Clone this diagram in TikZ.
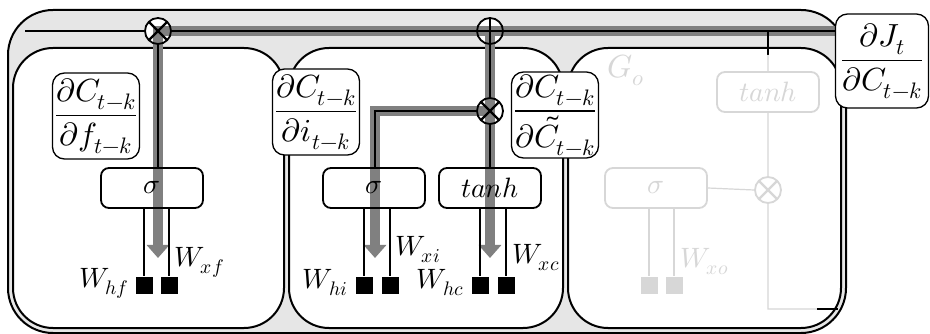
\documentclass[tikz,border=0pt]{standalone}
\usepackage{unicode-math}
\setmathfont{Latin Modern Math}
\usetikzlibrary{arrows.meta, calc}
\definecolor{bandgray}{RGB}{128, 128, 128}
\definecolor{fadegray}{RGB}{215, 215, 215}
\definecolor{cellgray}{RGB}{230, 230, 230}
\pgfdeclarelayer{back}
\pgfdeclarelayer{mid}
\pgfsetlayers{back, mid, main}

\begin{document}
\begin{tikzpicture}[x=1pt, y=-1pt, font=\fontsize{28}{32}\selectfont, >=Stealth,
    gate/.style={draw, line width=1.8pt, rounded corners=8pt, minimum width=102pt,
                 minimum height=40pt, inner sep=0pt},
    fgate/.style={gate, draw=fadegray, text=fadegray},
    grad/.style={draw, fill=white, line width=1.3pt, rounded corners=12pt, inner sep=1pt,
                 minimum width=87pt, minimum height=86pt, font=\fontsize{32}{36}\selectfont},
    wsq/.style={fill=#1, minimum size=17pt, inner sep=0pt}, wsq/.default=black,
    mul/.style={circle, draw=#1, line width=1.8pt, minimum size=26pt, inner sep=0pt,
        path picture={\draw[#1, line width=2.2pt]
            (path picture bounding box.north west) -- (path picture bounding box.south east)
            (path picture bounding box.north east) -- (path picture bounding box.south west);}},
    mul/.default=black,
    add/.style={circle, draw, line width=1.8pt, minimum size=26pt, inner sep=0pt,
        path picture={\draw[line width=2.2pt]
            (path picture bounding box.north) -- (path picture bounding box.south)
            (path picture bounding box.east) -- (path picture bounding box.west);}},
    band/.style={draw=bandgray, line width=10pt},
    wire/.style={line width=1.2pt}]
  \useasboundingbox (0,0) rectangle (930,334);

  % operators on the cell line
  \node[mul] (mulF) at (158,31) {};
  \node[add] (addC) at (490,31) {};
  \node[mul] (mulI) at (490,111) {};
  \node[mul=fadegray] (mulO) at (768,190) {};

  % gates
  \node[gate] (sigF) at (152,188) {$\sigma$};
  \node[gate] (sigI) at (374,188) {$\sigma$};
  \node[gate] (tanC) at (490,188) {$tanh$};
  \node[fgate] (sigO) at (656,188) {$\sigma$};
  \node[fgate] (tanO) at (768,92) {$tanh$};
  \node[text=fadegray, font=\fontsize{32}{36}\selectfont] (go) at (626,70) {$G_o$};

  % weights
  \foreach \n/\x in {whf/144, wxf/169, whi/364, wxi/390, whc/480, wxc/506}
    \node[wsq] (\n) at (\x,285) {};
  \foreach \n/\x in {who/649, wxo/674}
    \node[wsq=fadegray] (\n) at (\x,285) {};
  \node[anchor=east] (lhf) at ([xshift=-3pt, yshift=2pt]whf.west) {$W_{hf}$};
  \node[anchor=west] (lxf) at (171,262) {$W_{xf}$};
  \node[anchor=east] (lhi) at ([xshift=-4pt, yshift=2pt]whi.west) {$W_{hi}$};
  \node[anchor=west] (lxi) at (392,250) {$W_{xi}$};
  \node[anchor=east] (lhc) at ([xshift=-4pt, yshift=2pt]whc.west) {$W_{hc}$};
  \node[anchor=west] (lxc) at (509,258) {$W_{xc}$};
  \node[anchor=west, text=fadegray] (lxo) at (677,262) {$W_{xo}$};

  % gradient labels
  \node[grad] (dF) at (96,116) {$\dfrac{\partial C_{t-k}}{\partial f_{t-k}}$};
  \node[grad] (dI) at (316,112) {$\dfrac{\partial C_{t-k}}{\partial i_{t-k}}$};
  \node[grad] (dC) at (555,115) {$\dfrac{\partial C_{t-k}}{\partial \tilde{C}_{t-k}}$};
  \node[grad, minimum width=93pt, minimum height=94pt] (dJ) at (882,61)
        {$\dfrac{\partial J_t}{\partial C_{t-k}}$};

  \coordinate (cL) at (25,31);
  \coordinate (tipF) at (157,258);
  \coordinate (tipI) at (375,258);
  \coordinate (tipC) at (490,258);
  \coordinate (oK) at (768,55);
  \coordinate (oB) at (768,309);
  \coordinate (oR) at (817,309);
  \coordinate (oE) at (838,309);

  % cell and boxes
  \begin{pgfonlayer}{back}
    \draw[fill=cellgray, line width=2pt, rounded corners=45pt] (8,10) rectangle (846,333);
    \foreach \a/\b in {13/284, 289/563, 568/841}
      \draw[fill=white, line width=2pt, rounded corners=40pt] (\a,48) rectangle (\b,328);
    \foreach \c in {mulF, addC, mulI}
      \fill[white] (\c) circle[radius=13pt];
  \end{pgfonlayer}

  % gradient flow
  \begin{pgfonlayer}{mid}
    \draw[band, -{Triangle[width=22pt, length=13pt]}]
      (dJ.west |- mulF) -- (mulF.center) -- (mulF |- tipF);
    \draw[band, -{Triangle[width=22pt, length=13pt]}]
      (mulI.center) -- (tipI |- mulI) -- (tipI);
    \draw[band, -{Triangle[width=22pt, length=13pt]}] (addC.center) -- (tipC);
  \end{pgfonlayer}

  % wires
  \draw[wire] (cL) -- (mulF.west) (mulF.east) -- (addC.west) (addC.east) -- (dJ.west |- addC);
  \draw[wire] (mulF.south) -- (mulF |- sigF.north);
  \draw[wire] (mulI.west) -- (tipI |- mulI) -- (tipI |- sigI.north);
  \draw[wire] (addC.south) -- (mulI.north) (mulI.south) -- (tanC.north);
  \foreach \n/\g in {whf/sigF, wxf/sigF, whi/sigI, wxi/sigI, whc/tanC, wxc/tanC}
    \draw[wire] (\n |- \g.south) -- (\n.north);

  % output gate, faded
  \draw[wire] (oK |- addC) -- (oK);
  \draw[wire, fadegray] (oK) -- (tanO.north) (tanO.south) -- (mulO.north)
    (mulO.south) -- (oB) -- (oR) (sigO.east) -- (mulO.west);
  \draw[wire] (oR) -- (oE);
  \foreach \n in {who, wxo}
    \draw[wire, fadegray] (\n |- sigO.south) -- (\n.north);
\end{tikzpicture}
\end{document}
